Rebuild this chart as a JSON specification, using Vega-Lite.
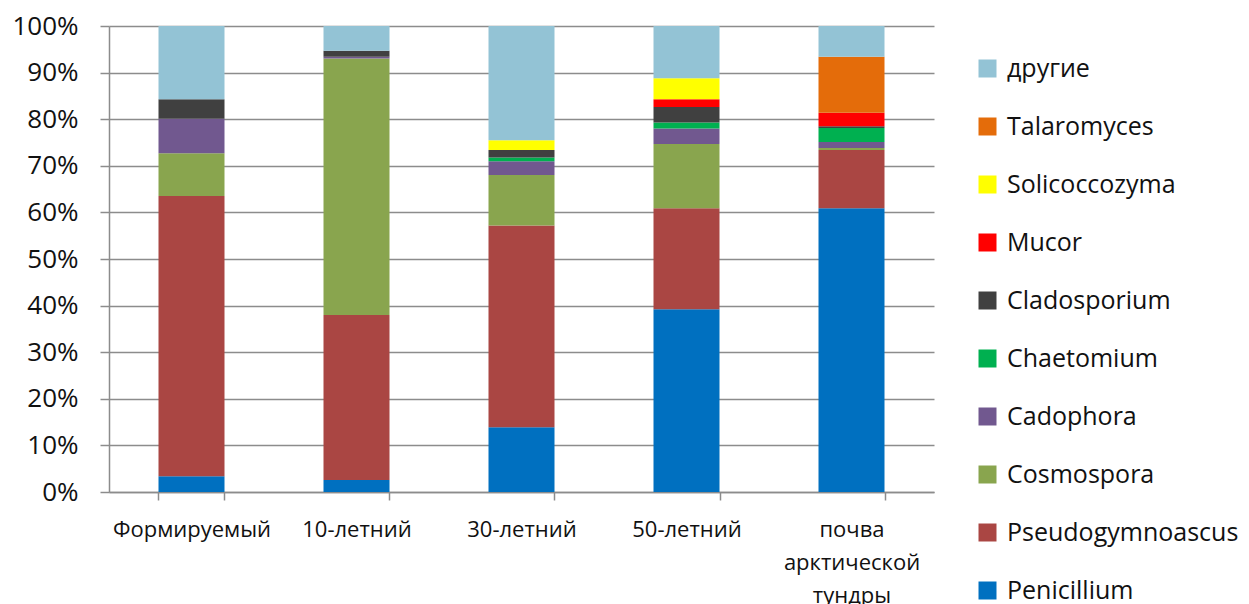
{
  "$schema": "https://vega.github.io/schema/vega-lite/v6.json",
  "autosize": {"type": "none"},
  "padding": {"left": 109, "top": 26, "right": 315, "bottom": 112},
  "width": 825,
  "height": 466,
  "background": "white",
  "config": {
    "font": "Open Sans",
    "view": {"stroke": null},
    "axis": {"labelColor": "#111111", "labelFont": "Open Sans", "domainColor": "#8c8c8c", "tickColor": "#8c8c8c", "gridColor": "#8c8c8c", "domainWidth": 1.5, "tickWidth": 1.5, "gridWidth": 1.5},
    "legend": {"labelColor": "#111111", "labelFont": "Open Sans"}
  },
  "data": {
    "values": [
      {"stage": "Формируемый", "taxon": "Penicillium", "share": 3.4},
      {"stage": "Формируемый", "taxon": "Pseudogymnoascus", "share": 60.1},
      {"stage": "Формируемый", "taxon": "Cosmospora", "share": 9.2},
      {"stage": "Формируемый", "taxon": "Cadophora", "share": 7.4},
      {"stage": "Формируемый", "taxon": "Cladosporium", "share": 4.2},
      {"stage": "Формируемый", "taxon": "другие", "share": 15.7},

      {"stage": "10-летний", "taxon": "Penicillium", "share": 2.6},
      {"stage": "10-летний", "taxon": "Pseudogymnoascus", "share": 35.4},
      {"stage": "10-летний", "taxon": "Cosmospora", "share": 55.0},
      {"stage": "10-летний", "taxon": "Cadophora", "share": 0.4},
      {"stage": "10-летний", "taxon": "Cladosporium", "share": 1.3},
      {"stage": "10-летний", "taxon": "другие", "share": 5.3},

      {"stage": "30-летний", "taxon": "Penicillium", "share": 13.9},
      {"stage": "30-летний", "taxon": "Pseudogymnoascus", "share": 43.3},
      {"stage": "30-летний", "taxon": "Cosmospora", "share": 10.8},
      {"stage": "30-летний", "taxon": "Cadophora", "share": 3.0},
      {"stage": "30-летний", "taxon": "Chaetomium", "share": 0.8},
      {"stage": "30-летний", "taxon": "Cladosporium", "share": 1.6},
      {"stage": "30-летний", "taxon": "Solicoccozyma", "share": 2.1},
      {"stage": "30-летний", "taxon": "другие", "share": 24.5},

      {"stage": "50-летний", "taxon": "Penicillium", "share": 39.2},
      {"stage": "50-летний", "taxon": "Pseudogymnoascus", "share": 21.7},
      {"stage": "50-летний", "taxon": "Cosmospora", "share": 13.8},
      {"stage": "50-летний", "taxon": "Cadophora", "share": 3.3},
      {"stage": "50-летний", "taxon": "Chaetomium", "share": 1.3},
      {"stage": "50-летний", "taxon": "Cladosporium", "share": 3.3},
      {"stage": "50-летний", "taxon": "Mucor", "share": 1.7},
      {"stage": "50-летний", "taxon": "Solicoccozyma", "share": 4.5},
      {"stage": "50-летний", "taxon": "другие", "share": 11.2},

      {"stage": "почва арктической тундры", "taxon": "Penicillium", "share": 60.9},
      {"stage": "почва арктической тундры", "taxon": "Pseudogymnoascus", "share": 12.5},
      {"stage": "почва арктической тундры", "taxon": "Cosmospora", "share": 0.4},
      {"stage": "почва арктической тундры", "taxon": "Cadophora", "share": 1.3},
      {"stage": "почва арктической тундры", "taxon": "Chaetomium", "share": 3.0},
      {"stage": "почва арктической тундры", "taxon": "Cladosporium", "share": 0.4},
      {"stage": "почва арктической тундры", "taxon": "Mucor", "share": 2.9},
      {"stage": "почва арктической тундры", "taxon": "Talaromyces", "share": 12.0},
      {"stage": "почва арктической тундры", "taxon": "другие", "share": 6.6}
    ]
  },
  "transform": [
    {"calculate": "indexof(['Penicillium','Pseudogymnoascus','Cosmospora','Cadophora','Chaetomium','Cladosporium','Mucor','Solicoccozyma','Talaromyces','другие'], datum.taxon)", "as": "stackOrder"}
  ],
  "mark": {"type": "bar"},
  "encoding": {
    "x": {
      "field": "stage",
      "type": "nominal",
      "sort": ["Формируемый", "10-летний", "30-летний", "50-летний", "почва арктической тундры"],
      "scale": {"paddingInner": 0.6, "paddingOuter": 0.3},
      "axis": {
        "title": null,
        "labelAngle": 0,
        "labelFontSize": 22,
        "labelPadding": 19,
        "labelBaseline": "top",
        "labelLineHeight": 33,
        "labelLimit": 0,
        "labelExpr": "split(datum.label, ' ')",
        "tickBand": "extent",
        "tickSize": 8,
        "domain": true
      }
    },
    "y": {
      "field": "share",
      "type": "quantitative",
      "stack": "normalize",
      "scale": {"domain": [0, 1], "nice": false},
      "axis": {
        "title": null,
        "values": [0, 0.1, 0.2, 0.3, 0.4, 0.5, 0.6, 0.7, 0.8, 0.9, 1],
        "format": ".0%",
        "labelFontSize": 26,
        "labelPadding": 22,
        "tickSize": 9,
        "grid": true,
        "domain": true
      }
    },
    "color": {
      "field": "taxon",
      "type": "nominal",
      "scale": {
        "domain": ["другие", "Talaromyces", "Solicoccozyma", "Mucor", "Cladosporium", "Chaetomium", "Cadophora", "Cosmospora", "Pseudogymnoascus", "Penicillium"],
        "range": ["#93C3D5", "#E46C0A", "#FFFF00", "#FF0000", "#404040", "#00B050", "#71588F", "#89A54E", "#AA4643", "#0070C0"]
      },
      "legend": {
        "title": null,
        "orient": "none",
        "legendX": 866,
        "legendY": 30,
        "padding": 0,
        "symbolType": "square",
        "symbolSize": 324,
        "symbolStrokeWidth": 0,
        "symbolOpacity": 1,
        "labelFontSize": 25,
        "labelOffset": 7,
        "labelLimit": 0,
        "rowPadding": 32
      }
    },
    "order": {"field": "stackOrder", "type": "quantitative", "sort": "ascending"}
  }
}
